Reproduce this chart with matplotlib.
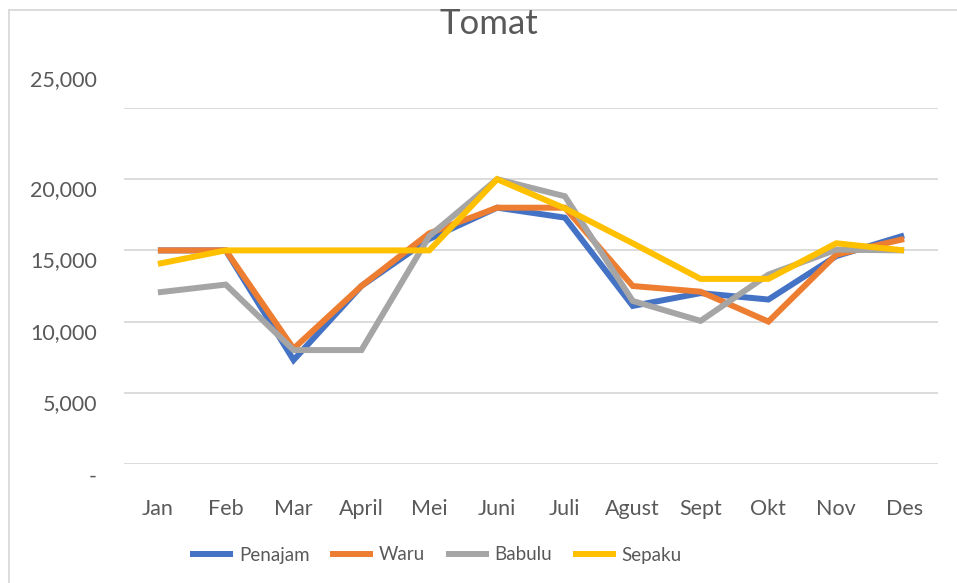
import matplotlib.pyplot as plt
from matplotlib.lines import Line2D
from matplotlib.transforms import blended_transform_factory, ScaledTranslation

plt.rcParams['font.family'] = ['Lato', 'DejaVu Sans']

months = ['Jan', 'Feb', 'Mar', 'April', 'Mei', 'Juni', 'Juli',
          'Agust', 'Sept', 'Okt', 'Nov', 'Des']
penajam = [15000, 15000, 7300, 12500, 15800, 18000, 17300,
           11100, 12000, 11550, 14600, 16050]
waru = [15000, 15000, 8100, 12500, 16200, 18000, 18000,
        12500, 12100, 10000, 14700, 15800]
babulu = [12050, 12600, 8000, 8000, 16000, 20000, 18800,
          11450, 10050, 13300, 15050, 15000]
sepaku = [14050, 15000, 15000, 15000, 15000, 20000, 17950,
          15500, 13000, 13000, 15500, 15000]
yticks = [0, 5000, 10000, 15000, 20000, 25000]
ytick_labels = ['-', '5,000', '10,000', '15,000', '20,000', '25,000']

series = [('Penajam', penajam, '#4472C4'),
          ('Waru', waru, '#ED7D31'),
          ('Babulu', babulu, '#A5A5A5'),
          ('Sepaku', sepaku, '#FFC000')]

W, H = 957, 583
fig = plt.figure(figsize=(W / 100, H / 100), dpi=100)
ax = fig.add_axes([124 / W, (H - 464) / H, 814 / W, 356 / H])

x = list(range(len(months)))
for i, (name, vals, col) in enumerate(series):
    ax.plot(x, vals, color=col, lw=4.3, label=name, zorder=3 + i,
            solid_joinstyle='miter', solid_capstyle='butt')

ax.set_xlim(-0.5, len(months) - 0.5)
ax.set_ylim(0, 25000)
ax.set_yticks(yticks)
ax.set_yticklabels([])
ax.tick_params(axis='y', length=0)
ax.set_xticks(x)
ax.set_xticklabels(months, fontsize=15.5, color='#595959')
ax.tick_params(axis='x', length=0, pad=25)
ax.grid(axis='y', color='#D9D9D9', lw=1.3)
for s in ax.spines.values():
    s.set_visible(False)

# Excel places the value labels slightly off the gridlines
trans = blended_transform_factory(ax.transAxes, ax.transData)
for v, lab in zip(yticks, ytick_labels):
    dy = 28 if v == 25000 else -11
    if v == 0:
        dy = -13
    t = trans + ScaledTranslation(-27 / 100, dy / 100, fig.dpi_scale_trans)
    ax.text(0, v, lab, transform=t, ha='right', va='center',
            fontsize=15.5, color='#595959')

fig.text(489 / W, 1 - 24 / H, 'Tomat', ha='center', va='center',
         fontsize=25, color='#595959')

fig.legend(loc='center', bbox_to_anchor=(436 / W, 1 - 555 / H), ncol=4,
           frameon=False, fontsize=13.5, labelcolor='#595959',
           handlelength=2.3, handletextpad=0.3, columnspacing=1.1)

# chart border
fig.add_artist(Line2D([8.5 / W, 8.5 / W], [0, 1 - 10 / H], color='#D9D9D9', lw=1.3))
fig.add_artist(Line2D([8.5 / W, 1], [1 - 10 / H, 1 - 10 / H], color='#D9D9D9', lw=1.3))

fig.savefig('out.png', dpi=100)
